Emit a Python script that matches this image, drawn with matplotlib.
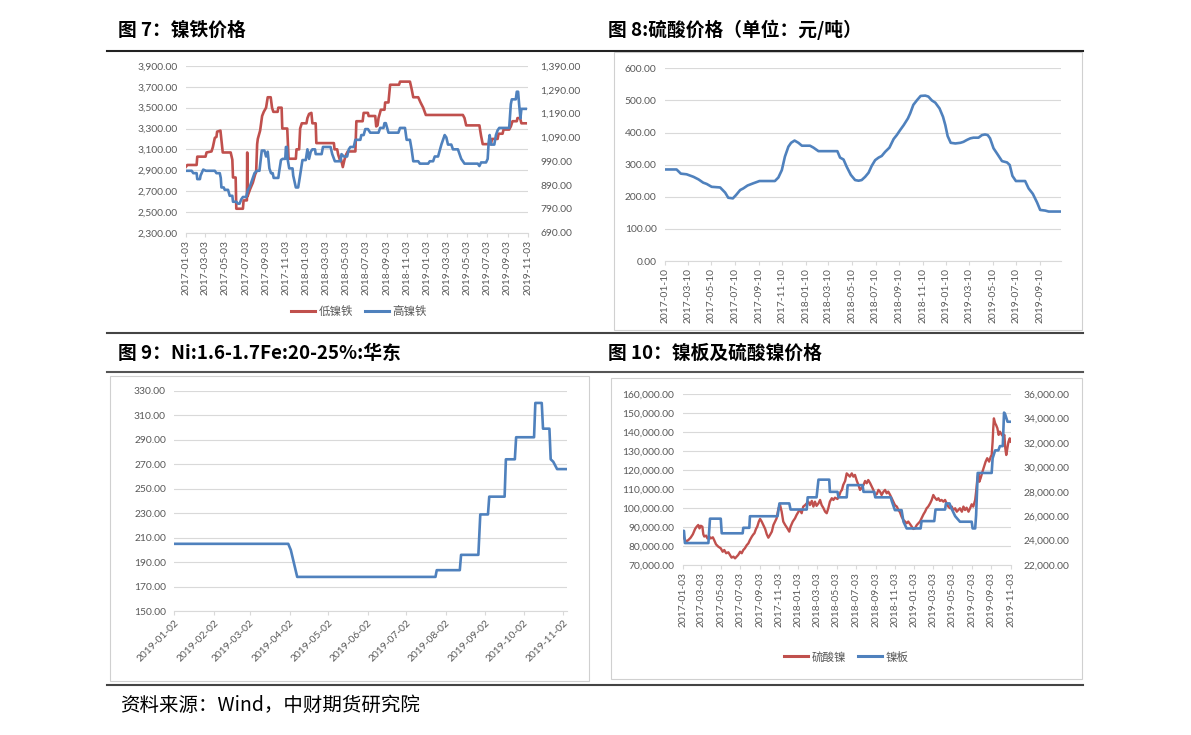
import numpy as np
import pandas as pd
import matplotlib
matplotlib.use("Agg")
import matplotlib.pyplot as plt
from matplotlib.lines import Line2D
from matplotlib.patches import Rectangle
from matplotlib.ticker import FuncFormatter, FixedLocator
import matplotlib.dates as mdates

plt.rcParams['font.family'] = ['Noto Sans CJK SC', 'DejaVu Sans']

# ---------------- data ----------------
# Fig 7: nickel pig iron (day offsets from 2017-01-03)
p7_start = '2017-01-03'
low_ni_days = [0, 5, 33, 35, 60, 63, 78, 82, 88, 93, 95, 105, 112, 136, 141, 143, 151, 153, 173, 175,
               185, 186, 187, 195, 203, 210, 213, 216, 218, 225, 231, 236, 243, 248, 257, 261, 265, 278,
               280, 290, 292, 307, 311, 333, 335, 343, 346, 351, 365, 368, 373, 380, 383, 393, 395, 448,
               450, 458, 461, 466, 470, 475, 480, 485, 490, 513, 516, 535, 538, 551, 553, 573, 576, 580,
               583, 590, 601, 603, 613, 618, 645, 648, 678, 683, 688, 703, 710, 718, 726, 838, 843, 848,
               888, 893, 898, 923, 926, 943, 946, 958, 961, 978, 983, 988, 1001, 1003, 1011, 1015, 1028]
low_ni_vals = [2930, 2950, 2950, 3030, 3030, 3070, 3080, 3120, 3210, 3220, 3270, 3280, 3070, 3070, 3000,
               2830, 2830, 2530, 2530, 2610, 2610, 3070, 2650, 2720, 2780, 2860, 2880, 3150, 3200, 3280,
               3420, 3460, 3500, 3600, 3600, 3500, 3460, 3460, 3500, 3500, 3300, 3300, 3010, 3010, 3100,
               3100, 3300, 3350, 3350, 3400, 3440, 3450, 3350, 3350, 3160, 3160, 3100, 3100, 3050, 3000,
               3000, 2930, 3000, 3050, 3080, 3080, 3370, 3370, 3450, 3450, 3420, 3420, 3320, 3330, 3400,
               3480, 3480, 3550, 3550, 3720, 3720, 3750, 3750, 3680, 3600, 3600, 3550, 3500, 3430, 3430,
               3400, 3330, 3330, 3230, 3150, 3150, 3200, 3200, 3250, 3250, 3290, 3290, 3320, 3370, 3370,
               3400, 3400, 3350, 3350]
high_ni_days = [0, 18, 23, 33, 35, 43, 45, 53, 61, 88, 93, 103, 106, 108, 115, 118, 128, 133, 141, 143,
                153, 158, 163, 168, 173, 183, 188, 193, 198, 208, 215, 223, 230, 238, 243, 248, 253, 258,
                263, 266, 280, 283, 288, 293, 301, 303, 306, 308, 313, 323, 325, 333, 340, 343, 348, 353,
                363, 368, 373, 378, 383, 391, 393, 411, 415, 438, 443, 451, 468, 471, 478, 488, 493, 498,
                508, 513, 528, 531, 538, 543, 551, 558, 583, 588, 598, 601, 605, 613, 643, 648, 663, 668,
                678, 683, 688, 703, 708, 733, 738, 748, 753, 763, 773, 783, 788, 793, 803, 808, 823, 833,
                843, 883, 888, 893, 908, 913, 916, 919, 923, 933, 938, 943, 948, 978, 983, 986, 998, 1001,
                1005, 1008, 1012, 1015, 1028]
high_ni_vals = [950, 950, 940, 940, 915, 915, 930, 955, 950, 950, 940, 940, 920, 880, 880, 870, 870, 845,
                845, 820, 820, 812, 812, 830, 840, 840, 870, 880, 900, 940, 950, 950, 1035, 1035, 1010,
                1030, 960, 940, 940, 920, 920, 950, 995, 1000, 1000, 1050, 1050, 1000, 960, 960, 930, 880,
                880, 905, 950, 995, 995, 1040, 1000, 1030, 1040, 1040, 1020, 1020, 1050, 1050, 1020, 990,
                990, 1020, 1010, 1010, 1040, 1050, 1050, 1080, 1080, 1100, 1100, 1125, 1125, 1110, 1110,
                1130, 1130, 1150, 1150, 1110, 1110, 1130, 1130, 1080, 1080, 1040, 990, 990, 980, 980, 990,
                990, 1010, 1010, 1060, 1100, 1090, 1060, 1060, 1040, 1040, 1000, 980, 980, 970, 985, 985,
                1000, 1070, 1100, 1060, 1060, 1100, 1120, 1130, 1130, 1230, 1250, 1250, 1282, 1282, 1230,
                1170, 1210, 1210]

# Fig 8: sulfuric acid (day offsets from 2017-01-10)
p8_start = '2017-01-10'
acid_days = [0, 30, 41, 56, 74, 87, 99, 108, 121, 143, 156, 164, 176, 184, 195, 203, 214, 229, 245, 264,
             285, 294, 303, 311, 320, 327, 336, 346, 355, 368, 376, 385, 398, 411, 428, 447, 454, 463, 471,
             482, 493, 502, 510, 519, 528, 536, 545, 554, 562, 571, 582, 593, 601, 610, 619, 630, 636, 644,
             653, 663, 675, 683, 692, 701, 712, 721, 727, 733, 741, 753, 766, 774, 783, 792, 800, 813, 822,
             830, 837, 843, 852, 862, 874, 887, 894, 901, 910, 921, 934, 943, 954, 965, 973, 986, 995, 1012,
             1027]
acid_vals = [285, 285, 272, 270, 262, 254, 244, 240, 231, 229, 213, 197, 195, 205, 221, 226, 235, 242, 249,
             249, 249, 260, 283, 325, 356, 368, 375, 368, 359, 359, 359, 353, 342, 342, 342, 342, 322, 316,
             294, 268, 252, 250, 252, 262, 275, 296, 314, 322, 327, 340, 353, 380, 392, 408, 423, 444, 460,
             486, 500, 514, 515, 512, 500, 493, 475, 449, 423, 389, 368, 366, 368, 371, 377, 382, 384, 384,
             392, 394, 392, 382, 351, 333, 311, 307, 299, 265, 249, 249, 249, 226, 209, 182, 159, 157, 154,
             154, 154]

# Fig 9: Ni 1.6-1.7 Fe 20-25% East China (day offsets from 2019-01-02)
p9_start = '2019-01-02'
nife_days = [0, 89, 91, 96, 204, 205, 223, 224, 237.5, 239, 245, 246, 258, 259, 266, 267, 281, 282, 287,
             288, 293, 294, 296, 299, 306.5]
nife_vals = [205, 205, 200, 178, 178, 183.5, 183.5, 196, 196, 229, 229, 243.5, 243.5, 274, 274, 292, 292,
             320, 320, 299, 299, 274, 272, 266, 266]

# Fig 10: nickel sulfate (left) & nickel plate (right), day offsets from 2017-01-03
nis_days = [0, 2, 5, 11, 18, 25, 32, 39, 44, 49, 53, 57, 62, 65, 68, 74, 78, 84, 88, 95, 99, 105, 112, 120,
            126, 131, 137, 144, 149, 154, 160, 165, 170, 175, 181, 186, 191, 196, 202, 207, 212, 218, 223,
            226, 231, 235, 240, 244, 249, 254, 260, 265, 270, 275, 281, 286, 291, 296, 302, 307, 312, 317,
            323, 330, 336, 340, 347, 354, 359, 365, 370, 375, 380, 386, 391, 396, 401, 407, 412, 417, 422,
            428, 433, 438, 443, 449, 454, 459, 464, 470, 475, 480, 488, 494, 498, 502, 506, 512, 517, 522,
            527, 533, 538, 543, 549, 554, 559, 564, 570, 575, 580, 585, 591, 596, 601, 606, 612, 617, 622,
            627, 633, 638, 643, 648, 654, 659, 664, 669, 675, 680, 685, 690, 696, 701, 706, 711, 717, 722,
            727, 732, 738, 743, 748, 753, 759, 764, 769, 774, 780, 785, 790, 795, 801, 806, 811, 816, 822,
            827, 832, 837, 843, 848, 853, 859, 864, 869, 874, 880, 885, 890, 895, 901, 906, 911, 916, 922,
            925, 929, 932, 935, 939, 945, 950, 955, 960, 966, 971, 974, 977, 979, 981, 985, 988, 992, 996,
            1000, 1006, 1011, 1014, 1017, 1020, 1024, 1027, 1031, 1034]
nis_vals = [85000, 86200, 84000, 82300, 83200, 84400, 86200, 89000, 90200, 91100, 89300, 90700, 90200,
            86200, 85000, 85500, 84000, 85000, 84000, 84600, 83200, 80900, 79700, 78800, 77000, 77900,
            76200, 76700, 75300, 73900, 74400, 73500, 74400, 75300, 77000, 76200, 77900, 78800, 80500,
            81400, 83200, 85000, 86200, 86700, 89000, 90200, 92900, 94300, 92900, 91100, 89000, 86200,
            84400, 85800, 87600, 91100, 92900, 94600, 99900, 101600, 98100, 92900, 91100, 89300, 87600,
            90200, 92900, 94600, 96400, 98100, 99000, 97300, 100800, 101600, 102500, 103400, 101600,
            103800, 100800, 103400, 101200, 102500, 104300, 101600, 100200, 98100, 97300, 99900, 103400,
            105200, 104300, 105500, 104800, 106900, 108700, 109600, 112200, 114300, 118300, 117500,
            116600, 118300, 116600, 117500, 114300, 112200, 109600, 110500, 112200, 114300, 113100,
            114800, 113100, 111300, 109600, 106900, 107400, 109600, 108700, 106900, 108700, 109600,
            107800, 108700, 106900, 105200, 103400, 101600, 100800, 99000, 97800, 95500, 93700, 92900,
            92000, 92900, 91500, 90200, 89000, 89300, 91100, 92000, 92900, 94600, 96700, 98100, 99900,
            100800, 102500, 104300, 106900, 105500, 104300, 105200, 103800, 104300, 103400, 104300,
            102500, 100800, 99900, 100800, 99000, 99900, 98100, 99000, 99900, 98100, 100800, 99000,
            100200, 98100, 99900, 102000, 100800, 104300, 108700, 115700, 118300, 113900, 115700,
            119200, 121900, 124500, 126300, 124500, 127100, 128000, 135000, 142100, 147300, 144700,
            143800, 142100, 138600, 140300, 138600, 137700, 138600, 131500, 128000, 132200, 135000,
            136800, 135000]
plate_days = [0, 4, 7, 81, 86, 120, 123, 189, 191, 210, 212, 299, 305, 336, 340, 391, 394, 422, 428, 462,
              464, 488, 491, 517, 520, 567, 570, 604, 607, 656, 659, 669, 690, 696, 706, 750, 753, 793, 797,
              827, 830, 841, 848, 859, 874, 911, 914, 922, 925, 930, 974, 977, 985, 995, 1000, 1009, 1013,
              1016, 1024, 1034]
plate_vals = [24800, 24800, 23800, 23800, 25800, 25800, 24600, 24600, 25050, 25050, 26000, 26000, 27050,
              27050, 26550, 26550, 27550, 27550, 29000, 29000, 28000, 28000, 27550, 27550, 28550, 28550,
              28000, 28000, 27550, 27550, 27250, 26500, 26500, 25550, 25000, 25000, 25600, 25600, 26550,
              26550, 27050, 27050, 26600, 26000, 25550, 25550, 25000, 25000, 26100, 29550, 29550, 30750,
              31400, 31400, 31750, 31750, 34500, 34400, 33750, 33750]

titles = ['图 7：镍铁价格', '图 8:硫酸价格（单位：元/吨）', '图 9：Ni:1.6-1.7Fe:20-25%:华东', '图 10：镍板及硫酸镍价格']
source = '资料来源：Wind，中财期货研究院'

# ---------------- style ----------------
W, H = 1191, 735
RED = '#C0504D'
BLUE = '#4F81BD'
GRID = '#D9D9D9'
TXT = '#595959'
TICKFONT = dict(fontsize=7.4, color=TXT, family=['Lato', 'DejaVu Sans'])

fig = plt.figure(figsize=(W / 100, H / 100), dpi=100)


def rect(x0, y0, x1, y1):
    return [x0 / W, 1 - y1 / H, (x1 - x0) / W, (y1 - y0) / H]


def to_dates(start, days):
    return pd.Timestamp(start) + pd.to_timedelta(np.asarray(days, dtype=float), unit='D')


fmt2 = FuncFormatter(lambda v, p: f'{v:,.2f}')


def style_axis(ax, ylim, yticks, xlim, xticks, rot=90):
    ax.set_ylim(*ylim)
    ax.set_yticks(yticks)
    ax.yaxis.set_major_formatter(fmt2)
    ax.set_xlim(*xlim)
    ax.xaxis.set_major_locator(FixedLocator(mdates.date2num(xticks)))
    ax.xaxis.set_major_formatter(mdates.DateFormatter('%Y-%m-%d'))
    for s in ['top', 'right', 'left']:
        ax.spines[s].set_visible(False)
    ax.spines['bottom'].set_color(GRID)
    ax.spines['bottom'].set_linewidth(0.8)
    ax.grid(axis='y', color=GRID, linewidth=0.8)
    ax.set_axisbelow(True)
    ax.tick_params(axis='y', length=0, pad=6)
    ax.tick_params(axis='x', length=3, color=GRID, pad=2)
    for lab in ax.get_yticklabels():
        lab.set(**TICKFONT)
    for lab in ax.get_xticklabels():
        lab.set(**TICKFONT)
        if rot == 90:
            lab.set_rotation(90)
            lab.set_ha('center')
            lab.set_va('top')
        else:
            lab.set_rotation(45)
            lab.set_ha('right')
            lab.set_va('top')
            lab.set_rotation_mode('anchor')


def right_axis(ax, ylim, yticks):
    axr = ax.twinx()
    axr.set_ylim(*ylim)
    axr.set_yticks(yticks)
    axr.yaxis.set_major_formatter(fmt2)
    for s in ['top', 'right', 'left', 'bottom']:
        axr.spines[s].set_visible(False)
    axr.tick_params(axis='y', length=0, pad=9)
    for lab in axr.get_yticklabels():
        lab.set(**TICKFONT)
    return axr


LW = 1.9

# ---------- Panel 7 ----------
ax7 = fig.add_axes(rect(185.7, 66, 527.7, 232.7))
t7 = pd.date_range('2017-01-01', '2019-11-01', freq='2MS') + pd.Timedelta(days=2)
ax7.plot(mdates.date2num(to_dates(p7_start, low_ni_days)), low_ni_vals, color=RED, lw=LW, label='低镍铁')
style_axis(ax7, (2300, 3900), np.arange(2300, 3901, 200),
           (mdates.date2num(pd.Timestamp('2017-01-03')), mdates.date2num(pd.Timestamp('2019-11-03'))), t7)
ax7r = right_axis(ax7, (690, 1390), np.arange(690, 1391, 100))
ax7r.plot(mdates.date2num(to_dates(p7_start, high_ni_days)), high_ni_vals, color=BLUE, lw=LW, label='高镍铁')
h = [Line2D([], [], color=RED, lw=2.2), Line2D([], [], color=BLUE, lw=2.2)]
legprop = dict(family=['Noto Sans CJK SC', 'DejaVu Sans'], size=8.3)
fig.legend(h, ['低镍铁', '高镍铁'], loc='center', bbox_to_anchor=(359 / W, 1 - 311.5 / H), ncol=2, frameon=False,
           prop=legprop, labelcolor=TXT, handlelength=2.1, handletextpad=0.3, columnspacing=1.0)

# ---------- Panel 8 ----------
ax8 = fig.add_axes(rect(665, 68.3, 1061, 261))
t8 = pd.date_range('2017-01-01', '2019-09-01', freq='2MS') + pd.Timedelta(days=9)
d8 = mdates.date2num(to_dates(p8_start, acid_days))
ax8.plot(d8, acid_vals, color=BLUE, lw=LW)
style_axis(ax8, (0, 600), np.arange(0, 601, 100), (d8[0], d8[-1]), t8)

# ---------- Panel 9 ----------
ax9 = fig.add_axes(rect(174.3, 390.7, 566.7, 611.2))
t9 = pd.date_range('2019-01-01', '2019-11-01', freq='MS') + pd.Timedelta(days=1)
d9 = mdates.date2num(to_dates(p9_start, nife_days))
ax9.plot(d9, nife_vals, color=BLUE, lw=LW)
style_axis(ax9, (150, 330), np.arange(150, 331, 20), (d9[0], d9[-1]), t9, rot=45)

# ---------- Panel 10 ----------
ax10 = fig.add_axes(rect(682.7, 394.3, 1010.7, 565))
ax10.plot(mdates.date2num(to_dates(p7_start, nis_days)), nis_vals, color=RED, lw=1.7)
style_axis(ax10, (70000, 160000), np.arange(70000, 160001, 10000),
           (mdates.date2num(pd.Timestamp('2017-01-03')), mdates.date2num(pd.Timestamp('2019-11-03'))), t7)
ax10r = right_axis(ax10, (22000, 36000), np.arange(22000, 36001, 2000))
ax10r.plot(mdates.date2num(to_dates(p7_start, plate_days)), plate_vals, color=BLUE, lw=LW)
fig.legend(h, ['硫酸镍', '镍板'], loc='center', bbox_to_anchor=(846 / W, 1 - 657 / H), ncol=2, frameon=False,
           prop=legprop, labelcolor=TXT, handlelength=2.1, handletextpad=0.3, columnspacing=1.0)

# ---------- frames, rules, titles ----------
for (x0, y0, x1, y1) in [(614, 52, 1082, 330), (110, 376, 589, 681), (611, 378, 1082, 679)]:
    fig.add_artist(Rectangle((x0 / W, 1 - y1 / H), (x1 - x0) / W, (y1 - y0) / H, transform=fig.transFigure,
                             fill=False, ec='#D0D0D0', lw=0.8))

for y, c in [(51, '#222222'), (333.3, '#444444'), (372, '#555555'), (684.5, '#444444')]:
    fig.add_artist(Line2D([107 / W, 1083 / W], [1 - y / H] * 2, color=c, lw=1.5, transform=fig.transFigure))

tfont = dict(family=['Noto Sans CJK SC', 'DejaVu Sans'], fontsize=13.5, fontweight='bold', color='black',
             va='center', ha='left')
fig.text(118 / W, 1 - 30 / H, titles[0], **tfont)
fig.text(608 / W, 1 - 30 / H, titles[1], **tfont)
fig.text(118 / W, 1 - 353 / H, titles[2], **tfont)
fig.text(608 / W, 1 - 353 / H, titles[3], **tfont)
fig.text(120 / W, 1 - 705 / H, source, family=['Noto Sans CJK SC', 'DejaVu Sans'], fontsize=14, color='black',
         va='center', ha='left')

fig.savefig('out.png', dpi=100)
